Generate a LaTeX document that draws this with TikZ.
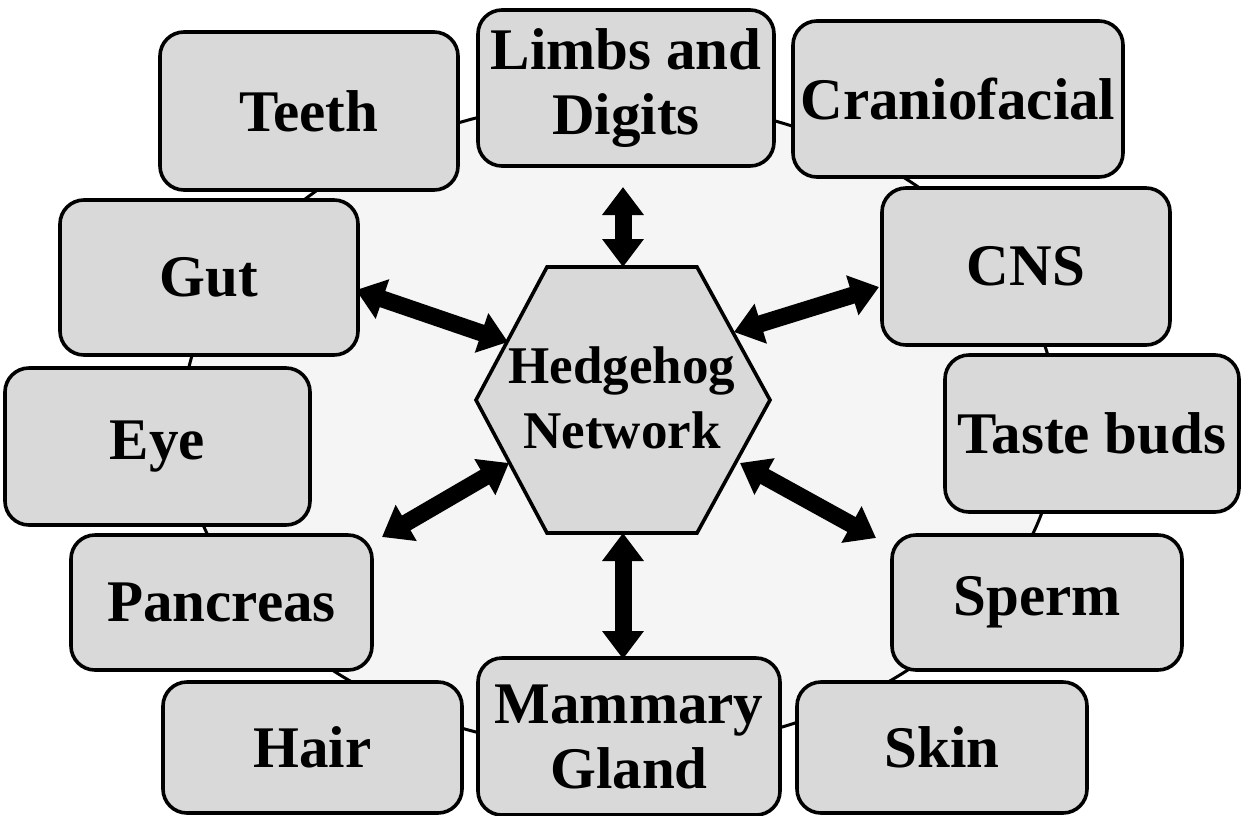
\documentclass[tikz,border=0pt]{standalone}
\usepackage{fontspec}
\setmainfont{Liberation Serif}
\usetikzlibrary{arrows.meta,calc}
\definecolor{boxgray}{RGB}{217,217,217}
\definecolor{ringgray}{RGB}{245,245,245}
\tikzset{
  organ/.style={draw=black, line width=1.8pt, fill=boxgray, rounded corners=12pt,
    align=center, inner sep=0pt, font=\fontsize{29.5}{32.5}\selectfont\bfseries},
  bigarrow/.style={line width=8.5pt, {Triangle[length=14pt,width=20pt]}-{Triangle[length=14pt,width=20pt]}},
  ring/.style={draw=black, line width=1.5pt, fill=ringgray},
  hexshape/.style={draw=black, line width=1.8pt, fill=boxgray, line join=miter}
}
\begin{document}
\begin{tikzpicture}[x=0.5pt,y=-0.5pt]
\useasboundingbox[fill=white] (0,0) rectangle (1242,815);
% ring
\draw[ring] (620,425) ellipse [x radius=219pt, y radius=162.5pt];
% hexagon
\draw[hexshape] (547,267) -- (697,267) -- (770,400) -- (697,533) -- (547,533) -- (476,400) -- cycle;
\node[align=center, font=\fontsize{26.5}{32.5}\selectfont\bfseries] (hh) at (622,398) {Hedgehog\\Network};
% hexagon contact points
\coordinate (htop) at (623,267);
\coordinate (hbot) at (623,533);
\coordinate (hul) at (508,342);
\coordinate (hur) at (734,332);
\coordinate (hll) at (509,463);
\coordinate (hlr) at (740,463);
% organ boxes
\node[organ, minimum width=149pt, minimum height=79pt] (teeth) at (309,111) {Teeth};
\node[organ, minimum width=148pt, minimum height=78pt] (limbs) at (626,88) {Limbs and\\Digits};
\node[organ, minimum width=165pt, minimum height=78pt] (cranio) at (958,99) {Craniofacial};
\node[organ, minimum width=144pt, minimum height=78.5pt] (cns) at (1026,266.5) {CNS};
\node[organ, minimum width=147pt, minimum height=78.5pt] (taste) at (1092,433.5) {Taste buds};
\node[organ, minimum width=145pt, minimum height=67.5pt] (sperm) at (1037,602.5) {Sperm};
\node[organ, minimum width=145pt, minimum height=65.5pt] (skin) at (942,747.5) {Skin};
\node[organ, minimum width=151pt, minimum height=78.5pt] (mammary) at (629,736.5) {Mammary\\Gland};
\node[organ, minimum width=149.5pt, minimum height=65.5pt] (hair) at (312.5,747.5) {Hair};
\node[organ, minimum width=150.5pt, minimum height=67.5pt] (pancreas) at (221.5,602.5) {Pancreas};
\node[organ, minimum width=152.5pt, minimum height=78.5pt] (eye) at (157.5,446.5) {Eye};
\node[organ, minimum width=149pt, minimum height=77.5pt] (gut) at (209,277.5) {Gut};
% arrow free ends
\coordinate (limbsend) at (623,187);
\coordinate (mamend) at (623,659);
\coordinate (gutend) at (356,290);
\coordinate (cnsend) at (879,287);
\coordinate (panend) at (382,537);
\coordinate (spermend) at (876,538);
% arrows
\draw[bigarrow] (limbsend) -- (htop);
\draw[bigarrow] (hbot) -- (mamend);
\draw[bigarrow] (gutend) -- (hul);
\draw[bigarrow] (hur) -- (cnsend);
\draw[bigarrow] (panend) -- (hll);
\draw[bigarrow] (hlr) -- (spermend);
\end{tikzpicture}
\end{document}
